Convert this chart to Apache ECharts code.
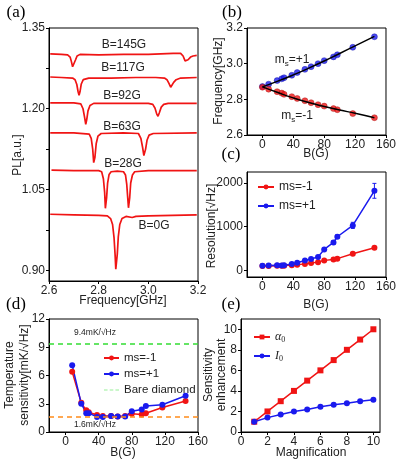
<!DOCTYPE html>
<html><head><meta charset="utf-8">
<script src="https://cdn.jsdelivr.net/npm/echarts@6/dist/echarts.min.js"></script>
<style>html,body{margin:0;padding:0;background:#fff}#c{width:399px;height:463px}</style>
</head><body><div id="c"></div>
<script>
// ---------- (a) PL spectra [frequency GHz, PL] ----------
const spec145 = [[2.605,1.302],[2.65,1.301],[2.675,1.300],[2.685,1.296],[2.690,1.288],[2.695,1.278],[2.698,1.275],[2.702,1.280],[2.707,1.291],[2.713,1.298],[2.725,1.301],[2.80,1.300],[2.90,1.301],[3.00,1.301],[3.05,1.302],[3.10,1.303],[3.13,1.303],[3.14,1.298],[3.148,1.289],[3.153,1.287],[3.16,1.291],[3.17,1.296],[3.18,1.298],[3.195,1.299]];
const spec117 = [[2.605,1.259],[2.65,1.258],[2.695,1.257],[2.705,1.254],[2.712,1.245],[2.717,1.232],[2.721,1.225],[2.725,1.232],[2.730,1.246],[2.738,1.254],[2.76,1.257],[2.85,1.257],[2.95,1.258],[3.03,1.258],[3.065,1.257],[3.075,1.254],[3.083,1.247],[3.090,1.240],[3.095,1.242],[3.102,1.249],[3.112,1.254],[3.13,1.257],[3.195,1.258]];
const spec92 = [[2.605,1.211],[2.70,1.211],[2.728,1.209],[2.737,1.200],[2.743,1.185],[2.748,1.171],[2.752,1.180],[2.757,1.196],[2.765,1.206],[2.78,1.210],[2.90,1.210],[3.00,1.210],[3.018,1.208],[3.027,1.201],[3.034,1.190],[3.039,1.186],[3.044,1.192],[3.052,1.203],[3.062,1.208],[3.08,1.210],[3.195,1.210]];
const spec63 = [[2.605,1.155],[2.70,1.155],[2.762,1.153],[2.770,1.145],[2.776,1.125],[2.780,1.100],[2.782,1.097],[2.785,1.110],[2.790,1.135],[2.797,1.149],[2.81,1.154],[2.90,1.155],[2.960,1.154],[2.970,1.145],[2.977,1.128],[2.982,1.113],[2.985,1.112],[2.989,1.125],[2.995,1.142],[3.003,1.151],[3.02,1.154],[3.195,1.155]];
const spec28 = [[2.61,1.086],[2.70,1.085],[2.80,1.085],[2.812,1.083],[2.819,1.070],[2.824,1.045],[2.827,1.015],[2.829,1.012],[2.832,1.035],[2.836,1.062],[2.842,1.078],[2.850,1.083],[2.875,1.084],[2.900,1.083],[2.908,1.077],[2.913,1.060],[2.917,1.035],[2.920,1.016],[2.922,1.015],[2.925,1.035],[2.929,1.062],[2.936,1.077],[2.945,1.083],[3.00,1.085],[3.195,1.085]];
const spec0 = [[2.605,1.004],[2.70,1.003],[2.80,1.002],[2.835,1.001],[2.848,0.996],[2.856,0.985],[2.862,0.960],[2.866,0.930],[2.869,0.902],[2.872,0.902],[2.875,0.930],[2.879,0.962],[2.885,0.985],[2.894,0.996],[2.91,1.000],[2.935,0.998],[2.95,1.000],[3.00,1.001],[3.195,1.003]];
const aFieldLabels = ['B=145G','B=117G','B=92G','B=63G','B=28G','B=0G'];
const aXTicks = [2.6,2.8,3.0,3.2];
const aYTicks = [0.90,1.05,1.20,1.35];

// ---------- (b) resonance frequencies ----------
const bB = [0,8,19,25,28,38,45,55,63,72,80,92,97,117,145];
const bPlus = [2.872,2.885,2.905,2.915,2.921,2.935,2.95,2.968,2.983,3.0,3.017,3.038,3.05,3.092,3.151];
const bMinus = [2.868,2.857,2.843,2.835,2.828,2.815,2.805,2.792,2.781,2.77,2.762,2.748,2.742,2.72,2.697];
const fitB = [0,20,40,60,80,100,120,145];
const fitPlus = [2.870,2.902,2.937,2.975,3.015,3.057,3.100,3.153];
const fitMinus = [2.870,2.838,2.808,2.782,2.760,2.740,2.722,2.697];
const bXTicks = [0,40,80,120,160];

// ---------- (c) resolution ----------
const cB = [0,8,19,25,28,38,45,55,63,72,80,92,97,117,145];
const cMinus = [100,100,105,105,110,120,130,150,170,190,230,250,270,380,520];
const cPlus = [110,115,120,115,120,145,175,225,260,310,480,640,770,1030,1820];
const cPlusErr = [0,0,0,0,0,0,0,0,0,0,20,40,40,70,170];
const cYTicks = [0,1000,2000];

// ---------- (d) temperature sensitivity ----------
const dB = [8,19,25,28,38,45,55,63,72,80,92,97,117,145];
const dMinus = [6.4,3.1,2.3,2.1,1.8,1.7,1.7,1.65,1.7,1.95,1.85,2.0,2.6,3.3];
const dPlus = [7.1,3.0,2.0,2.0,1.6,1.6,1.7,1.65,1.65,2.2,2.4,2.75,2.9,3.85];
const bareDiamond = 9.4;
const bestSens = 1.6;
const dYTicks = [0,3,6,9,12];

// ---------- (e) sensitivity enhancement ----------
const eMag = [1,2,3,4,5,6,7,8,9,10];
const eAlpha = [1,2,3,4,5,6,7,8,9,10];
const eI = [1.0,1.4,1.7,2.0,2.2,2.45,2.65,2.8,3.0,3.15];
const eXTicks = [0,2,4,6,8,10];
const eYTicks = [0,2,4,6,8,10];

const zip = (xs, ys) => xs.map((x, i) => [x, ys[i]]);
const RED = '#f01414', BLUE = '#1a1aee';
const FF = 'Liberation Sans, Arial, sans-serif';

function axis(gi, min, max, labels, ticks, fmt) {
  return {
    type: 'value', gridIndex: gi, min: min, max: max,
    axisLine: { show: true, onZero: false, lineStyle: { color: '#000', width: 1 } },
    axisTick: { show: true, inside: false, length: 3, customValues: ticks, lineStyle: { color: '#000' } },
    axisLabel: { customValues: labels, formatter: fmt, color: '#222', fontSize: 12, fontFamily: FF, margin: 4 },
    splitLine: { show: false }
  };
}
const f1 = v => Number(v).toFixed(1), f2 = v => Number(v).toFixed(2), f0 = v => String(Math.round(v));

const grids = [
  { left: 49, top: 28, width: 149, height: 253 },
  { left: 247, top: 28, width: 141, height: 107 },
  { left: 247, top: 172, width: 141, height: 105 },
  { left: 49, top: 319, width: 149, height: 113 },
  { left: 241, top: 319, width: 139, height: 113 }
].map(g => Object.assign({ show: true, borderColor: '#000', borderWidth: 1, backgroundColor: 'transparent' }, g));

const xAxes = [
  axis(0, 2.6, 3.2, aXTicks, aXTicks, f1),
  axis(1, -20, 160, bXTicks, bXTicks, f0),
  axis(2, -20, 160, bXTicks, bXTicks, f0),
  axis(3, -20, 160, bXTicks, bXTicks, f0),
  axis(4, 0, 10.5, eXTicks, eXTicks, f0)
];
const yAxes = [
  axis(0, 0.88, 1.35, aYTicks, [0.90,0.975,1.05,1.125,1.20,1.275,1.35], f2),
  axis(1, 2.6, 3.2, [2.6,2.8,3.0,3.2], [2.6,2.8,3.0,3.2], f1),
  axis(2, -150, 2250, cYTicks, cYTicks, f0),
  axis(3, 0, 12, dYTicks, dYTicks, f0),
  axis(4, 0, 11, eYTicks, eYTicks, f0)
];

const specLine = d => ({ type: 'line', xAxisIndex: 0, yAxisIndex: 0, data: d, showSymbol: false, symbol: 'none',
  lineStyle: { color: RED, width: 1.7 }, itemStyle: { color: RED }, animation: false, silent: true });

function lineSeries(name, gi, data, color, symbol, size, extra) {
  return Object.assign({ name: name, type: 'line', xAxisIndex: gi, yAxisIndex: gi, data: data,
    symbol: symbol, symbolSize: size, showSymbol: true,
    lineStyle: { color: color, width: 1.5 }, itemStyle: { color: color }, animation: false }, extra || {});
}

const series = [
  specLine(spec145), specLine(spec117), specLine(spec92), specLine(spec63), specLine(spec28), specLine(spec0),
  // (b)
  { type: 'line', xAxisIndex: 1, yAxisIndex: 1, data: zip(fitB, fitPlus), smooth: true, symbol: 'none', lineStyle: { color: '#000', width: 1.5 }, animation: false },
  { type: 'line', xAxisIndex: 1, yAxisIndex: 1, data: zip(fitB, fitMinus), smooth: true, symbol: 'none', lineStyle: { color: '#000', width: 1.5 }, animation: false },
  { type: 'scatter', xAxisIndex: 1, yAxisIndex: 1, data: zip(bB, bPlus), symbolSize: 6, itemStyle: { color: BLUE, borderColor: '#1010a0', borderWidth: 0.5 }, animation: false },
  { type: 'scatter', xAxisIndex: 1, yAxisIndex: 1, data: zip(bB, bMinus), symbolSize: 6, itemStyle: { color: RED, borderColor: '#a01010', borderWidth: 0.5 }, animation: false },
  // (c)
  lineSeries('ms=-1', 2, zip(cB, cMinus), RED, 'circle', 6),
  lineSeries('ms=+1', 2, zip(cB, cPlus), BLUE, 'circle', 6),
  { type: 'custom', xAxisIndex: 2, yAxisIndex: 2, animation: false,
    data: cB.map((b, i) => [b, cPlus[i] - cPlusErr[i], cPlus[i] + cPlusErr[i]]).filter((d, i) => cPlusErr[i] > 0),
    renderItem: function (params, api) {
      const lo = api.coord([api.value(0), api.value(1)]);
      const hi = api.coord([api.value(0), api.value(2)]);
      const w = 2;
      const st = { stroke: BLUE, lineWidth: 1 };
      return { type: 'group', children: [
        { type: 'line', shape: { x1: lo[0], y1: lo[1], x2: hi[0], y2: hi[1] }, style: st },
        { type: 'line', shape: { x1: lo[0] - w, y1: lo[1], x2: lo[0] + w, y2: lo[1] }, style: st },
        { type: 'line', shape: { x1: hi[0] - w, y1: hi[1], x2: hi[0] + w, y2: hi[1] }, style: st }
      ] };
    } },
  // (d)
  lineSeries('Bare diamond', 3, [], '#33dd33', 'none', 0, {
    lineStyle: { color: '#33dd33', width: 1.5, type: 'dashed' },
    markLine: { silent: true, symbol: 'none', label: { show: false },
      data: [ { yAxis: bareDiamond, lineStyle: { color: '#33dd33', type: [5, 4], width: 1.5 } },
              { yAxis: bestSens, lineStyle: { color: '#ff8c1a', type: [5, 4], width: 1.5 } } ] } }),
  lineSeries('ms=-1', 3, zip(dB, dMinus), RED, 'circle', 6),
  lineSeries('ms=+1', 3, zip(dB, dPlus), BLUE, 'circle', 6),
  // (e)
  lineSeries('alpha', 4, zip(eMag, eAlpha), RED, 'rect', 6),
  lineSeries('I0', 4, zip(eMag, eI), BLUE, 'circle', 6)
];

const legendText = { fontSize: 12, fontFamily: FF, color: '#222' };
const legends = [
  { orient: 'vertical', left: 252, top: 176, itemWidth: 16, itemHeight: 6, itemGap: 7,
    data: ['ms=-1', 'ms=+1'].map(n => ({ name: n })), textStyle: legendText, selectedMode: false },
  { orient: 'vertical', left: 98, top: 347, itemWidth: 15, itemHeight: 6, itemGap: 4,
    data: [{ name: 'ms=-1' }, { name: 'ms=+1' }, { name: 'Bare diamond', icon: 'path://M0,0 L5,0 L5,1 L0,1 Z M8,0 L13,0 L13,1 L8,1 Z M16,0 L21,0 L21,1 L16,1 Z', itemStyle: { color: '#33dd33' } }],
    textStyle: { fontSize: 11.5, fontFamily: FF, color: '#222' }, selectedMode: false },
  { orient: 'vertical', left: 248, top: 326, itemWidth: 16, itemHeight: 6, itemGap: 6,
    data: ['alpha', 'I0'], selectedMode: false,
    formatter: n => n === 'alpha' ? '{a|α}{s|0}' : '{a|I}{s|0}',
    textStyle: { fontSize: 12, fontFamily: 'Liberation Serif, serif', color: '#222',
      rich: { a: { fontSize: 12, fontFamily: 'Liberation Serif, serif', fontStyle: 'italic' }, s: { fontSize: 8, verticalAlign: 'bottom', padding: [6, 0, 0, 0], fontFamily: 'Liberation Serif, serif' } } } }
];

function txt(x, y, text, size, opts) {
  return Object.assign({ type: 'text', x: x, y: y, silent: true,
    style: Object.assign({ text: text, fontSize: size, fontFamily: FF, fill: '#222', align: 'center', verticalAlign: 'middle' }, (opts && opts.style) || {}) },
    opts && opts.rotation !== undefined ? { rotation: opts.rotation } : {});
}
const SERIF = 'Liberation Serif, Times New Roman, serif';
const ROT = Math.PI / 2;
const aLabelPos = [[124, 45], [123, 68], [122, 96], [122, 127], [123, 164], [154, 226]];
const graphics = [
  txt(16, 13, '(a)', 17, { style: { fontFamily: SERIF, fill: '#000' } }),
  txt(232, 13, '(b)', 17, { style: { fontFamily: SERIF, fill: '#000' } }),
  txt(231, 155, '(c)', 17, { style: { fontFamily: SERIF, fill: '#000' } }),
  txt(16, 305, '(d)', 17, { style: { fontFamily: SERIF, fill: '#000' } }),
  txt(231, 305, '(e)', 17, { style: { fontFamily: SERIF, fill: '#000' } }),
  txt(18, 155, 'PL[a.u.]', 12, { rotation: ROT }),
  txt(123, 301, 'Frequency[GHz]', 12),
  txt(219, 81, 'Frequency[GHz]', 12, { rotation: ROT }),
  txt(316, 154, 'B(G)', 12),
  txt(212, 226, 'Resolution[√Hz]', 12, { rotation: ROT }),
  txt(316, 305, 'B(G)', 12),
  txt(10, 375, 'Temperature', 12, { rotation: ROT }),
  txt(25, 375, 'sensitivity[mK/√Hz]', 12, { rotation: ROT }),
  txt(123, 453, 'B(G)', 12),
  txt(209, 375, 'Sensitivity', 12, { rotation: ROT }),
  txt(222, 375, 'enhancement', 12, { rotation: ROT }),
  txt(311, 453, 'Magnification', 12),
  txt(95, 333, '9.4mK/√Hz', 8.5),
  txt(95, 425, '1.6mK/√Hz', 8.5),
  { type: 'text', x: 292, y: 60, silent: true, style: { text: '{m|m}{s|s}{m|=+1}', align: 'center', verticalAlign: 'middle',
    rich: { m: { fontSize: 12, fontFamily: FF, fill: '#222' }, s: { fontSize: 8, fontFamily: FF, fill: '#222', padding: [7, 0, 0, 0] } } } },
  { type: 'text', x: 297, y: 116, silent: true, style: { text: '{m|m}{s|s}{m|=-1}', align: 'center', verticalAlign: 'middle',
    rich: { m: { fontSize: 12, fontFamily: FF, fill: '#222' }, s: { fontSize: 8, fontFamily: FF, fill: '#222', padding: [7, 0, 0, 0] } } } }
].concat(aFieldLabels.map((t, i) => txt(aLabelPos[i][0], aLabelPos[i][1], t, 12)));

const chart = echarts.init(document.getElementById('c'), null, { renderer: 'canvas' });
chart.setOption({
  animation: false,
  grid: grids, xAxis: xAxes, yAxis: yAxes, series: series, legend: legends,
  graphic: { elements: graphics }
});
</script></body></html>
